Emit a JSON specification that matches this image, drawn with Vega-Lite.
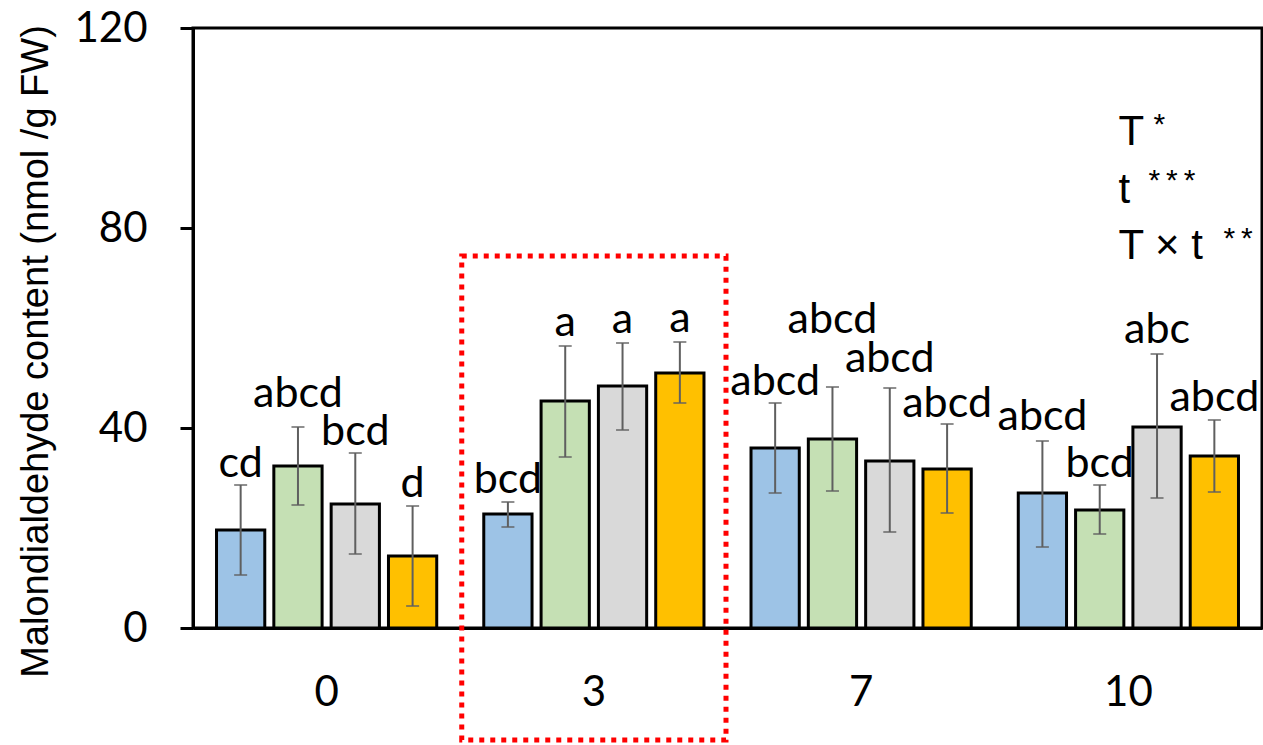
{
  "$schema": "https://vega.github.io/schema/vega-lite/v6.json",
  "width": 1069,
  "height": 600,
  "autosize": {"type": "none"},
  "padding": {"left": 193, "top": 28, "right": 1, "bottom": 117},
  "background": "white",
  "config": {
    "view": {"stroke": "black", "strokeWidth": 3},
    "font": "Lato"
  },
  "datasets": {
    "bars": [
      {"day": "0", "group": "T1", "mean": 19.6, "lo": 10.6, "hi": 28.6, "letter": "cd", "letter_at": 30.2},
      {"day": "0", "group": "T2", "mean": 32.4, "lo": 24.6, "hi": 40.2, "letter": "abcd", "letter_at": 44.2},
      {"day": "0", "group": "T3", "mean": 24.8, "lo": 14.8, "hi": 35.0, "letter": "bcd", "letter_at": 36.6},
      {"day": "0", "group": "T4", "mean": 14.4, "lo": 4.4, "hi": 24.4, "letter": "d", "letter_at": 26.2},
      {"day": "3", "group": "T1", "mean": 22.8, "lo": 20.2, "hi": 25.2, "letter": "bcd", "letter_at": 27.0},
      {"day": "3", "group": "T2", "mean": 45.4, "lo": 34.2, "hi": 56.4, "letter": "a", "letter_at": 58.4},
      {"day": "3", "group": "T3", "mean": 48.4, "lo": 39.6, "hi": 57.0, "letter": "a", "letter_at": 59.0},
      {"day": "3", "group": "T4", "mean": 51.0, "lo": 45.0, "hi": 57.2, "letter": "a", "letter_at": 59.2},
      {"day": "7", "group": "T1", "mean": 36.0, "lo": 27.0, "hi": 45.0, "letter": "abcd", "letter_at": 46.6},
      {"day": "7", "group": "T2", "mean": 37.8, "lo": 27.4, "hi": 48.2, "letter": "abcd", "letter_at": 59.0},
      {"day": "7", "group": "T3", "mean": 33.4, "lo": 19.2, "hi": 48.0, "letter": "abcd", "letter_at": 51.2},
      {"day": "7", "group": "T4", "mean": 31.8, "lo": 23.0, "hi": 40.8, "letter": "abcd", "letter_at": 42.2},
      {"day": "10", "group": "T1", "mean": 27.0, "lo": 16.2, "hi": 37.4, "letter": "abcd", "letter_at": 39.6},
      {"day": "10", "group": "T2", "mean": 23.6, "lo": 18.8, "hi": 28.6, "letter": "bcd", "letter_at": 30.2},
      {"day": "10", "group": "T3", "mean": 40.2, "lo": 26.0, "hi": 54.8, "letter": "abc", "letter_at": 57.0},
      {"day": "10", "group": "T4", "mean": 34.4, "lo": 27.2, "hi": 41.6, "letter": "abcd", "letter_at": 43.4}
    ],
    "box": [
      {"day": "3", "lo": -22.4, "hi": 74.4}
    ],
    "terms": [
      {"term": "T", "stars": "*", "at": 96.6, "star_at": 98.9},
      {"term": "t", "stars": "*\u2009*\u2009*", "at": 85.0, "star_at": 87.7},
      {"term": "T × t", "stars": "*\u2009*", "at": 73.8, "star_at": 76.1}
    ]
  },
  "layer": [
    {
      "data": {"name": "bars"},
      "mark": {"type": "bar", "stroke": "black", "strokeWidth": 3},
      "encoding": {
        "x": {
          "field": "day", "type": "nominal", "sort": ["0", "3", "7", "10"],
          "scale": {"domain": ["0", "3", "7", "10"], "paddingInner": 0.176, "paddingOuter": 0.088},
          "axis": {
            "title": null, "labelAngle": 0, "labelFont": "Lato", "labelFontSize": 42,
            "labelColor": "black", "ticks": false, "tickSize": 0, "labelPadding": 77,
            "labelBaseline": "alphabetic", "domainColor": "black", "domainWidth": 3, "grid": false
          }
        },
        "xOffset": {
          "field": "group", "type": "nominal",
          "scale": {"domain": ["T1", "T2", "T3", "T4"], "paddingInner": 0.158, "paddingOuter": 0}
        },
        "y": {
          "field": "mean", "type": "quantitative",
          "scale": {"domain": [0, 120]},
          "axis": {
            "values": [0, 40, 80, 120],
            "title": "Malondialdehyde content (nmol /g FW)",
            "titleFont": "Liberation Sans", "titleFontSize": 38, "titleFontWeight": "normal",
            "titleColor": "black", "titleAngle": -90, "titleX": -146, "titleY": 323,
            "titleBaseline": "alphabetic", "titleAlign": "center",
            "labelFont": "Lato", "labelFontSize": 42, "labelColor": "black", "labelPadding": 33,
            "labelFlush": false, "labelOverlap": false,
            "tickSize": 13, "tickWidth": 3, "tickColor": "black",
            "domainColor": "black", "domainWidth": 3, "grid": false
          }
        },
        "fill": {
          "field": "group", "type": "nominal",
          "scale": {"domain": ["T1", "T2", "T3", "T4"], "range": ["#9DC3E6", "#C5E0B4", "#D9D9D9", "#FFC000"]},
          "legend": null
        }
      }
    },
    {
      "data": {"name": "bars"},
      "mark": {"type": "rule", "color": "#5f5f5f", "strokeWidth": 2},
      "encoding": {
        "x": {"field": "day", "type": "nominal"},
        "xOffset": {"field": "group", "type": "nominal"},
        "y": {"field": "lo", "type": "quantitative"},
        "y2": {"field": "hi"}
      }
    },
    {
      "data": {"name": "bars"},
      "mark": {"type": "tick", "color": "#5f5f5f", "thickness": 2, "size": 13, "orient": "horizontal"},
      "encoding": {
        "x": {"field": "day", "type": "nominal"},
        "xOffset": {"field": "group", "type": "nominal"},
        "y": {"field": "hi", "type": "quantitative"}
      }
    },
    {
      "data": {"name": "bars"},
      "mark": {"type": "tick", "color": "#5f5f5f", "thickness": 2, "size": 13, "orient": "horizontal"},
      "encoding": {
        "x": {"field": "day", "type": "nominal"},
        "xOffset": {"field": "group", "type": "nominal"},
        "y": {"field": "lo", "type": "quantitative"}
      }
    },
    {
      "data": {"name": "bars"},
      "mark": {"type": "text", "font": "Lato", "fontSize": 43, "color": "black", "align": "center", "baseline": "alphabetic"},
      "encoding": {
        "x": {"field": "day", "type": "nominal"},
        "xOffset": {"field": "group", "type": "nominal"},
        "y": {"field": "letter_at", "type": "quantitative"},
        "text": {"field": "letter"}
      }
    },
    {
      "data": {"name": "box"},
      "mark": {"type": "rect", "fill": "transparent", "stroke": "#FF0000", "strokeWidth": 5, "strokeDash": [5, 6], "width": {"band": 1.2}, "clip": false},
      "encoding": {
        "x": {"field": "day", "type": "nominal"},
        "y": {"field": "lo", "type": "quantitative"},
        "y2": {"field": "hi"}
      }
    },
    {
      "data": {"name": "terms"},
      "mark": {"type": "text", "font": "Liberation Sans", "fontSize": 42, "color": "black", "align": "left", "baseline": "alphabetic", "dx": -10},
      "encoding": {
        "x": {"datum": "10", "type": "nominal"},
        "y": {"field": "at", "type": "quantitative"},
        "text": {"field": "term"}
      }
    },
    {
      "data": {"name": "terms"},
      "transform": [{"filter": "datum.term == 'T'"}],
      "mark": {"type": "text", "font": "Liberation Sans", "fontSize": 30, "color": "black", "align": "left", "baseline": "alphabetic", "dx": 25},
      "encoding": {
        "x": {"datum": "10", "type": "nominal"},
        "y": {"field": "star_at", "type": "quantitative"},
        "text": {"field": "stars"}
      }
    },
    {
      "data": {"name": "terms"},
      "transform": [{"filter": "datum.term == 't'"}],
      "mark": {"type": "text", "font": "Liberation Sans", "fontSize": 30, "color": "black", "align": "left", "baseline": "alphabetic", "dx": 20},
      "encoding": {
        "x": {"datum": "10", "type": "nominal"},
        "y": {"field": "star_at", "type": "quantitative"},
        "text": {"field": "stars"}
      }
    },
    {
      "data": {"name": "terms"},
      "transform": [{"filter": "datum.term == 'T × t'"}],
      "mark": {"type": "text", "font": "Liberation Sans", "fontSize": 30, "color": "black", "align": "left", "baseline": "alphabetic", "dx": 95},
      "encoding": {
        "x": {"datum": "10", "type": "nominal"},
        "y": {"field": "star_at", "type": "quantitative"},
        "text": {"field": "stars"}
      }
    }
  ]
}
